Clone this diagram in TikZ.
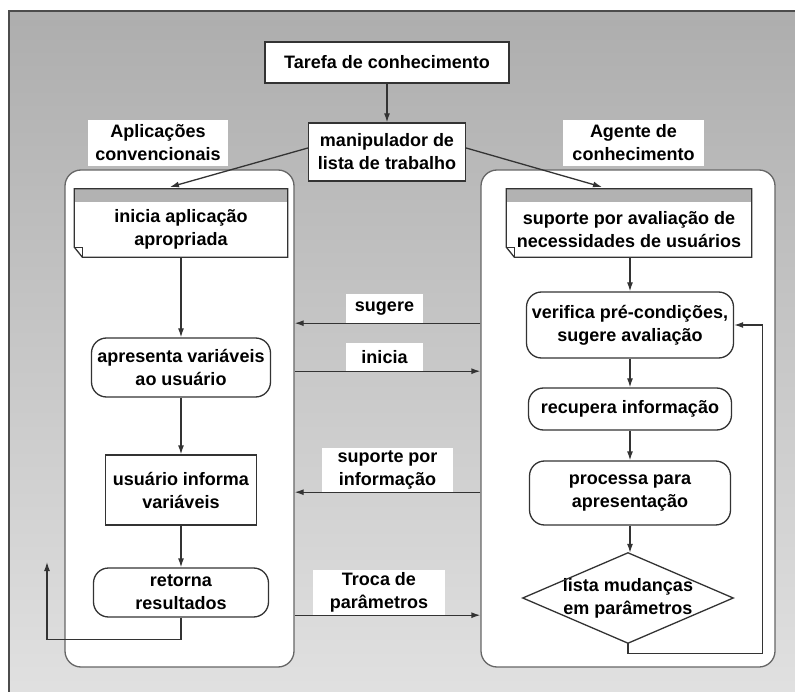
\documentclass[tikz,border=0pt]{standalone}
\usepackage{fontspec}
\setmainfont{Liberation Sans}
\usetikzlibrary{arrows.meta}

\tikzset{
  line/.style={draw=black!80, line width=1.3pt},
  arr/.style={line, -{Latex[length=9pt,width=6pt]}},
  txt/.style={inner sep=0pt, align=center, font=\fontsize{18}{23}\selectfont\bfseries},
  box/.style={txt, line, fill=white},
  rbox/.style={box, rounded corners=15pt},
  lab/.style={txt, fill=white},
  doc/.style={txt},
  frame/.style={draw=black!60, line width=1.3pt, fill=white, rounded corners=16pt},
}

\begin{document}
\begin{tikzpicture}[x=1pt, y=-1pt]
\useasboundingbox (0,0) rectangle (795,692);
% fundo
\shade[top color=black!32, bottom color=black!12] (9,11) rectangle (795,692);
\draw[draw=black!70, line width=1.5pt] (9,692) -- (9,11) -- (795,11);

% blocos grandes
\node[frame, minimum width=229, minimum height=497] (apl) at (179.5,418.5) {};
\node[frame, minimum width=294, minimum height=497] (age) at (628,418.5) {};

% topo
\node[box, minimum width=244, minimum height=41] (tarefa) at (387,62.5) {Tarefa de conhecimento};
\node[box, minimum width=157, minimum height=58] (manip) at (387,152) {manipulador de\\lista de trabalho};
\node[lab, minimum width=140, minimum height=46] (labapl) at (158,143) {Aplicações\\convencionais};
\node[lab, minimum width=141, minimum height=46] (labage) at (633.5,143) {Agente de\\conhecimento};
\coordinate (aplin) at (170,187);
\coordinate (agein) at (602,187);

\draw[arr] (tarefa.south) -- (manip.north);
\draw[arr] ([yshift=4pt]manip.west) -- (aplin);
\draw[arr] ([yshift=4pt]manip.east) -- (agein);

% coluna esquerda
\node[doc, minimum width=213, minimum height=55] (inicia) at (181,229.5) {inicia aplicação\\apropriada};
\fill[black!30] (inicia.north west) rectangle ([yshift=13pt]inicia.north east);
\draw[line] ([yshift=13pt]inicia.north west) -- ([yshift=13pt]inicia.north east) -- (inicia.south east)
  -- ([xshift=8pt]inicia.south west) -- ([yshift=10pt]inicia.south west) -- cycle;
\draw[line, line width=0.8pt] ([yshift=10pt]inicia.south west) -- ([xshift=8pt,yshift=10pt]inicia.south west)
  -- ([xshift=8pt]inicia.south west);
\node[rbox, minimum width=179, minimum height=59] (apresenta) at (181,367.5) {apresenta variáveis\\ao usuário};
\node[box, minimum width=151, minimum height=70] (usuario) at (181,490) {usuário informa\\variáveis};
\node[rbox, minimum width=175, minimum height=49] (retorna) at (181,592.5) {retorna\\resultados};
\coordinate (volta) at (47,562);

\draw[arr] (inicia.south) -- (apresenta.north);
\draw[arr] (apresenta.south) -- (usuario.north);
\draw[arr] (usuario.south) -- (retorna.north);
\draw[arr] (retorna.south) -- ++(0,22) -| (volta);

% coluna direita
\node[doc, minimum width=245, minimum height=55] (suporte) at (629,229.5) {suporte por avaliação de\\necessidades de usuários};
\fill[black!30] (suporte.north west) rectangle ([yshift=13pt]suporte.north east);
\draw[line] ([yshift=13pt]suporte.north west) -- ([yshift=13pt]suporte.north east) -- (suporte.south east)
  -- ([xshift=8pt]suporte.south west) -- ([yshift=10pt]suporte.south west) -- cycle;
\draw[line, line width=0.8pt] ([yshift=10pt]suporte.south west) -- ([xshift=8pt,yshift=10pt]suporte.south west)
  -- ([xshift=8pt]suporte.south west);
\node[rbox, minimum width=207, minimum height=66] (verifica) at (630,325) {verifica pré-condições,\\sugere avaliação};
\node[rbox, minimum width=203, minimum height=42] (recupera) at (630,409) {recupera informação};
\node[rbox, minimum width=201, minimum height=64] (processa) at (630,493) {processa para\\apresentação};
\node[doc, minimum width=210, minimum height=90] (lista) at (628,598) {lista mudanças\\em parâmetros};
\draw[line] (lista.west) -- (lista.north) -- (lista.east) -- (lista.south) -- cycle;

\draw[arr] (suporte.south -| verifica.north) -- (verifica.north);
\draw[arr] (verifica.south) -- (recupera.north);
\draw[arr] (recupera.south) -- (processa.north);
\draw[arr] (processa.south) -- (processa.south |- lista.north);
\draw[arr] (lista.south) -- ++(0,10) -| ([xshift=28pt]verifica.east) -- (verifica.east);

% trocas entre os blocos
\node[lab, minimum width=77, minimum height=29] (sug) at (384.5,308.5) {sugere};
\node[lab, minimum width=77, minimum height=28] (ini) at (384.5,357) {inicia};
\node[lab, minimum width=131, minimum height=44] (sup) at (387.5,470) {suporte por\\informação};
\node[lab, minimum width=132, minimum height=45] (troca) at (379,592.5) {Troca de\\parâmetros};

\draw[arr] (age.west |- sug.south) -- (apl.east |- sug.south);
\draw[arr] (apl.east |- ini.south) -- (age.west |- ini.south);
\draw[arr] (age.west |- sup.south) -- (apl.east |- sup.south);
\draw[arr] (apl.east |- troca.south) -- (age.west |- troca.south);
\end{tikzpicture}
\end{document}
